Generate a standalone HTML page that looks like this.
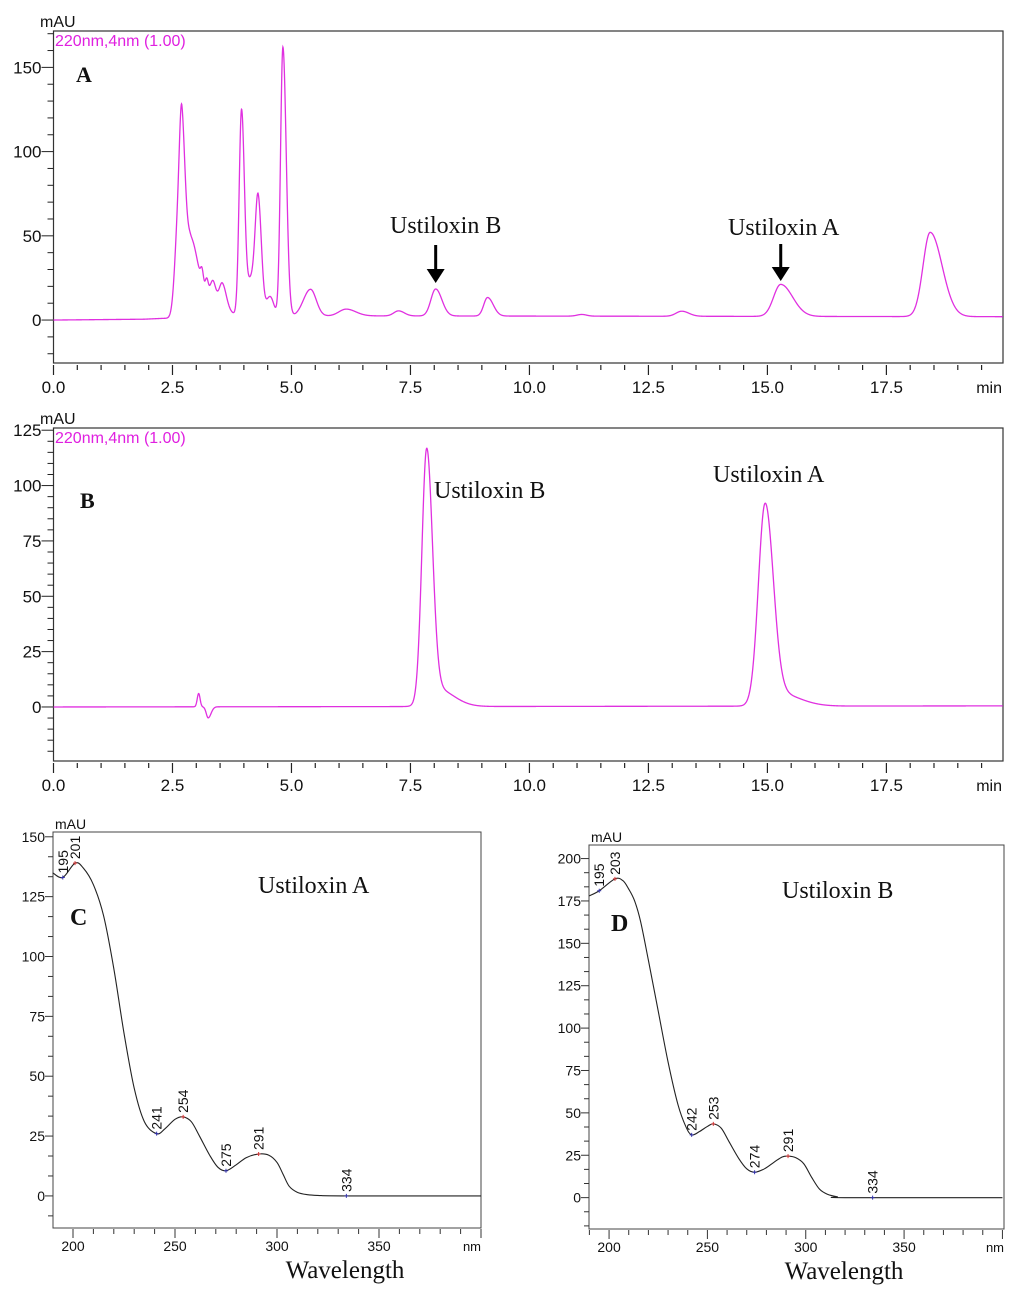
<!DOCTYPE html>
<html><head><meta charset="utf-8"><style>
html,body{margin:0;padding:0;background:#fff;}
svg{display:block;}
.ax{font-family:"Liberation Sans",sans-serif;fill:#111;}
.sr{font-family:"Liberation Serif",serif;fill:#111;}
</style></head><body>
<svg id="fig" width="1024" height="1295" viewBox="0 0 1024 1295" xmlns="http://www.w3.org/2000/svg"></svg>
<script>
// ---- Panel A peak table (retention time, height, left width, right width)
const aPeakTimes   = [2.62,2.70,2.88,3.12,3.22,3.35,3.30,3.55,3.95,4.15,4.30,4.55,4.82,5.40,6.15,7.25,8.03,9.12,11.1,13.2,15.28,18.42];
const aPeakHeights = [55,88,45,8,7,8,14,12,120,22,66,12,160,16,4,3,16,11,1,3,19,50];
const aPeakWL      = [0.07,0.05,0.1,0.03,0.03,0.05,0.2,0.06,0.05,0.1,0.06,0.08,0.05,0.15,0.15,0.1,0.1,0.08,0.1,0.12,0.15,0.15];
const aPeakWR      = [0.07,0.07,0.15,0.03,0.03,0.05,0.25,0.08,0.06,0.1,0.07,0.08,0.07,0.12,0.2,0.12,0.13,0.12,0.1,0.15,0.25,0.25];
const aBaseT = [0,1.9,2.3,6,20];
const aBaseV = [0,0.5,1,2.5,2];
// ---- Panel B peak table
const bPeakTimes   = [3.05,3.25,7.84,8.05,14.95,15.2];
const bPeakHeights = [6,-5,112,8,88,6];
const bPeakWL      = [0.03,0.04,0.1,0.2,0.14,0.25];
const bPeakWR      = [0.03,0.06,0.12,0.35,0.17,0.45];
const bBaseT = [0,20];
const bBaseV = [0,0.5];
const timeTicks = ["0.0","2.5","5.0","7.5","10.0","12.5","15.0","17.5"];
const aYTicks = [0,50,100,150];
const bYTicks = [0,25,50,75,100,125];
// ---- Panel C spectrum (Ustiloxin A)
const cWave = [190,195,201,205,210,215,220,225,230,235,241,245,250,254,258,262,267,271,275,280,285,291,296,300,303,306,310,315,320,334,400];
const cAbs  = [135,133,139,137,130,117,95,68,45,31,26,28,32,33,31,25,17,12,10.5,13,16,17.5,17,14,9,4,1.5,0.5,0.2,0,0];
const cMarkW = [195,201,241,254,275,291,334];
const cMarkV = [133,139,26,33,10.5,17.5,0];
// ---- Panel D spectrum (Ustiloxin B)
const dWave = [190,195,203,207,210,213,216,220,225,230,235,239,242,246,250,253,257,261,266,270,274,279,284,288,291,295,299,303,307,311,316,320,400];
const dAbs  = [178,181,188,187,182,175,163,140,110,80,55,42,37,39,42,43.5,41,33,23,17,15,17,21,24,24.5,23.5,20,12,5,2,0.5,0,0];
const dMarkW = [195,203,242,253,274,291,334];
const dMarkV = [181,188,37,43.5,15,24.5,0];
const cYTicks=[0,25,50,75,100,125,150];
const dYTicks=[0,25,50,75,100,125,150,175,200];
const specXTicks=[200,250,300,350];

const NS="http://www.w3.org/2000/svg";
const svg=document.getElementById('fig');
function mk(tag,attrs,parent,text){const e=document.createElementNS(NS,tag);for(const k in attrs)e.setAttribute(k,attrs[k]);if(text!==undefined)e.textContent=text;(parent||svg).appendChild(e);return e;}
function lin(d0,d1,r0,r1){return v=>r0+(v-d0)*(r1-r0)/(d1-d0);}
function interp(xs,ys,x){for(let i=0;i<xs.length-1;i++){if(x<=xs[i+1])return ys[i]+(ys[i+1]-ys[i])*(x-xs[i])/(xs[i+1]-xs[i]);}return ys[ys.length-1];}
function signal(t,T,H,WL,WR,bt,bv){let s=interp(bt,bv,t);for(let i=0;i<T.length;i++){const w=t<T[i]?WL[i]:WR[i];const d=(t-T[i])/w;s+=H[i]*Math.exp(-0.5*d*d);}return s;}

function chrom(name,top,bottom,yMin,yMax,yTicks,T,H,WL,WR,bt,bv){
  const g=mk('g',{});  
  const L=53.5,R=1003;
  const X=lin(0,19.95,L,R), Y=lin(yMin,yMax,bottom,top);
  mk('rect',{x:L,y:top,width:R-L,height:bottom-top,fill:'none',stroke:'#333','stroke-width':1.2},g);
  const xa=mk('g',{},g);  
  for(let i=0;i<=40;i++){const t=i*0.5;const x=X(t);if(x>R+1)break;const maj=i%5===0;
    mk('line',{x1:x,x2:x,y1:bottom+2,y2:bottom+(maj?12:7),stroke:'#222','stroke-width':1.2},xa);}
  timeTicks.forEach((lab,i)=>{const e=mk('text',{x:X(i*2.5),y:bottom+30,'text-anchor':'middle','font-size':17,class:'ax'},xa,lab);});
  mk('text',{x:1002,y:bottom+30,'text-anchor':'end','font-size':16,class:'ax'},xa,'min');
  const ya=mk('g',{},g);  
  const step=(yTicks[1]-yTicks[0])/5;
  for(let v=Math.ceil(yMin/step)*step; v<=yMax; v+=step){const y=Y(v);const maj=Math.abs(v/(yTicks[1]-yTicks[0])-Math.round(v/(yTicks[1]-yTicks[0])))<1e-6;
    mk('line',{x1:L-(maj?12:6),x2:L,y1:y,y2:y,stroke:'#222','stroke-width':1},ya);}
  yTicks.forEach(v=>{const e=mk('text',{x:L-12,y:Y(v)+6,'text-anchor':'end','font-size':17,class:'ax'},ya,String(v));});
  mk('text',{x:40,y:top-4,'font-size':16,class:'ax'},ya,'mAU');
  mk('text',{x:55,y:top+15,'font-size':16,fill:'#e020e0','font-family':'Liberation Sans, sans-serif'},g,'220nm,4nm (1.00)');
  let d='';for(let t=0;t<=19.95;t+=0.005){const v=signal(t,T,H,WL,WR,bt,bv);d+=(d?'L':'M')+X(t).toFixed(2)+','+Y(v).toFixed(2);}
  const p=mk('path',{d:d,fill:'none',stroke:'#e030e0','stroke-width':1.3},g);
  return {g,X,Y};
}
function arrow(g,x,y1,y2){mk('line',{x1:x,x2:x,y1:y1,y2:y2-12,stroke:'#000','stroke-width':3},g);mk('polygon',{points:`${x-9},${y2-14} ${x+9},${y2-14} ${x},${y2}`,fill:'#000'},g);}

const A=chrom('panel-a',31,363,-25.5,171.6,aYTicks,aPeakTimes,aPeakHeights,aPeakWL,aPeakWR,aBaseT,aBaseV);
mk('text',{x:76,y:82,'font-size':22,'font-weight':'bold',class:'sr'},A.g,'A');
mk('text',{x:390,y:233,'font-size':24,class:'sr'},A.g,'Ustiloxin B');
mk('text',{x:728,y:235,'font-size':24,class:'sr'},A.g,'Ustiloxin A');
arrow(A.g,A.X(8.03),245,283); arrow(A.g,A.X(15.28),244,281);

const B=chrom('panel-b',428,761,-24.4,126,bYTicks,bPeakTimes,bPeakHeights,bPeakWL,bPeakWR,bBaseT,bBaseV);
mk('text',{x:80,y:508,'font-size':22,'font-weight':'bold',class:'sr'},B.g,'B');
mk('text',{x:434,y:498,'font-size':24,class:'sr'},B.g,'Ustiloxin B');
mk('text',{x:713,y:482,'font-size':24,class:'sr'},B.g,'Ustiloxin A');

function smoothPath(pts){let d='M'+pts[0][0].toFixed(2)+','+pts[0][1].toFixed(2);
  for(let i=0;i<pts.length-1;i++){const p0=pts[Math.max(i-1,0)],p1=pts[i],p2=pts[i+1],p3=pts[Math.min(i+2,pts.length-1)];
    const c1=[p1[0]+(p2[0]-p0[0])/6,p1[1]+(p2[1]-p0[1])/6],c2=[p2[0]-(p3[0]-p1[0])/6,p2[1]-(p3[1]-p1[1])/6];
    d+=`C${c1[0].toFixed(2)},${c1[1].toFixed(2)} ${c2[0].toFixed(2)},${c2[1].toFixed(2)} ${p2[0].toFixed(2)},${p2[1].toFixed(2)}`;}
  return d;}

function spec(name,L,R,top,bottom,wMin,wMax,yMin,yMax,yTicks,W,V,MW,MV,letter,title,tx,ty,lx,ly,wlx){
  const g=mk('g',{});  
  const X=lin(wMin,wMax,L,R),Y=lin(yMin,yMax,bottom,top);
  mk('rect',{x:L,y:top,width:R-L,height:bottom-top,fill:'none',stroke:'#444','stroke-width':1},g);
  const xa=mk('g',{},g);  
  for(let w=Math.ceil(wMin/10)*10;w<=wMax;w+=10){const x=X(w);mk('line',{x1:x,x2:x,y1:bottom+1,y2:bottom+(w%50===0?10:6),stroke:'#333','stroke-width':1},xa);}
  specXTicks.forEach(w=>{const e=mk('text',{x:X(w),y:bottom+23,'text-anchor':'middle','font-size':14,class:'ax',fill:'#333'},xa,String(w));});
  mk('text',{x:R,y:bottom+23,'text-anchor':'end','font-size':13,class:'ax'},xa,'nm');
  mk('text',{x:wlx,y:bottom+50,'text-anchor':'middle','font-size':25,class:'sr'},xa,'Wavelength');
  const ya=mk('g',{},g);  
  const st=25/3;
  for(let k=Math.ceil(yMin/st);k*st<=yMax+0.01;k++){const v=k*st,y=Y(v);const maj=k%3===0;mk('line',{x1:L-(maj?8:5),x2:L,y1:y,y2:y,stroke:'#333','stroke-width':1},ya);}
  yTicks.forEach(v=>{const e=mk('text',{x:L-8,y:Y(v)+5,'text-anchor':'end','font-size':14,class:'ax'},ya,String(v));});
  mk('text',{x:L+2,y:top-3,'font-size':14,class:'ax'},ya,'mAU');
  const pts=W.map((w,i)=>[X(w),Y(V[i])]);
  const p=mk('path',{d:smoothPath(pts),fill:'none',stroke:'#222','stroke-width':1.1},g);
  MW.forEach((w,i)=>{const x=X(w),y=Y(MV[i]);
    mk('path',{d:`M${x-2},${y}L${x+2},${y}M${x},${y-2}L${x},${y+2}`,stroke:i%2?'#c33':'#33a','stroke-width':1},g);
    const e=mk('text',{x:x+5,y:y-4,'font-size':14,class:'ax',fill:'#333',transform:`rotate(-90 ${x+5} ${y-4})`},g,String(w));});
  mk('text',{x:lx,y:ly,'font-size':24,'font-weight':'bold',class:'sr'},g,letter);
  mk('text',{x:tx,y:ty,'font-size':24,class:'sr'},g,title);
}
spec('panel-c',53,481,832,1228,190.2,400,-13.4,152,cYTicks,cWave,cAbs,cMarkW,cMarkV,'C','Ustiloxin A',258,893,70,925,345);
spec('panel-d',589,1004,845,1229,189.8,400.8,-18.5,208,dYTicks,dWave,dAbs,dMarkW,dMarkV,'D','Ustiloxin B',782,898,611,931,844);
</script>
</body></html>
